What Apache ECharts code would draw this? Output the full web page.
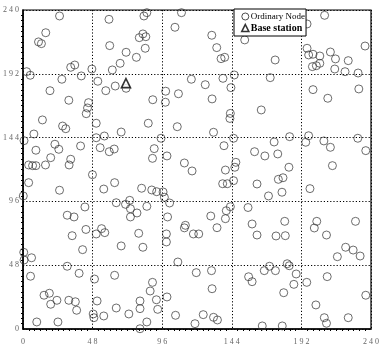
<!DOCTYPE html>
<html><head><meta charset="utf-8">
<script src="https://cdn.jsdelivr.net/npm/echarts@6/dist/echarts.min.js"></script>
<style>html,body{margin:0;padding:0;background:#fff}#c{width:382px;height:350px}</style>
</head><body><div id="c"></div>
<script>
const nodeX = [25.2,15.7,10.7,12.7,35.7,32.9,2.5,5.0,26.8,40.2,47.5,18.6,31.6,45.2,44.5,43.6,13.4,59.3,59.8,71.1,67.0,61.6,51.6,57.1,63.6,71.1,
83.4,85.4,109.3,104.8,82.7,84.7,80.2,78.2,84.3,130.2,133.6,136.6,139.1,116.1,125.7,137.9,145.7,143.4,98.4,107.2,89.5,98.2,130.4,143.0,142.7,152.9,
208.0,195.9,235.9,195.9,197.0,200.0,204.7,212.0,215.5,224.3,204.7,202.3,199.6,215.0,222.1,231.1,173.9,170.5,200.0,231.6,210.2,164.3,
50.5,27.3,29.5,7.5,0.7,50.5,56.1,67.7,22.0,24.7,39.7,8.9,53.2,59.5,62.9,19.1,32.9,31.8,3.9,6.6,8.9,15.5,47.9,3.9,63.2,25.2,55.7,0.2,64.3,73.6,70.7,42.7,30.5,35.2,74.1,43.4,54.2,
86.4,106.4,95.2,131.4,145.2,138.6,90.5,99.3,89.3,111.3,116.6,146.8,146.1,139.6,145.2,137.7,140.9,81.8,88.8,92.2,96.6,97.5,101.1,74.1,78.6,85.4,99.7,143.0,140.2,129.5,139.6,155.2,112.0,111.3,133.8,
183.9,197.0,195.0,173.2,207.5,230.9,212.0,236.4,159.7,166.8,175.7,183.4,213.4,161.4,176.1,179.3,178.6,169.3,197.9,158.0,180.5,202.6,200.9,229.3,
33.9,50.5,56.4,67.7,41.1,0.5,0.7,5.9,30.5,38.7,5.2,49.3,63.2,14.5,18.2,19.1,23.4,31.6,36.1,51.1,37.0,64.3,48.4,48.9,55.7,73.0,9.5,24.1,
79.8,82.7,98.9,98.9,117.5,121.2,106.8,119.5,130.0,89.3,87.7,130.4,80.7,92.0,99.3,80.7,92.9,105.2,124.3,131.4,134.1,85.4,80.7,118.6,155.6,
158.0,161.4,174.5,180.9,209.3,222.5,227.7,216.8,232.5,182.2,183.6,170.0,166.4,174.1,188.4,195.7,186.8,209.8,179.8,236.4,202.0,207.8,209.3,224.3,165.0,178.8];
const nodeY = [235.5,222.9,216.0,214.7,198.6,196.9,193.6,190.9,187.9,190.4,195.6,179.3,172.1,170.3,166.3,162.0,157.3,233.0,213.2,208.2,199.9,194.9,186.4,179.3,182.8,181.1,
235.5,238.0,238.0,227.0,222.0,219.9,219.2,204.4,211.2,221.0,211.7,203.4,204.4,187.9,183.8,188.6,191.1,181.6,178.9,177.0,172.5,170.6,173.1,162.2,158.4,217.5,
236.0,229.5,212.9,211.2,206.2,206.7,205.4,208.4,203.2,201.9,199.9,198.1,197.4,195.6,193.6,192.6,202.4,189.1,180.1,180.6,173.6,164.8,
154.8,152.7,150.7,146.7,141.7,143.9,145.2,148.2,139.0,135.2,137.7,134.5,136.4,133.4,135.4,128.9,127.7,123.4,123.4,122.9,122.9,123.4,116.1,110.1,110.1,104.4,105.3,100.1,95.0,96.8,93.8,91.8,85.6,84.3,84.3,74.9,75.5,
154.8,152.2,143.5,148.0,143.5,137.9,135.7,130.2,128.4,124.9,118.9,125.4,121.7,119.6,111.6,109.3,109.3,105.9,104.6,103.3,103.1,99.1,94.8,90.5,87.3,92.3,84.3,92.0,89.0,85.0,83.0,91.4,78.0,76.1,76.2,
144.7,145.4,140.5,140.7,141.5,143.5,136.7,134.2,133.4,130.2,131.7,121.7,122.9,109.1,112.6,113.8,102.9,100.1,105.6,79.0,81.0,81.0,76.0,81.0,
70.2,71.5,72.5,62.5,59.7,57.7,51.9,53.6,47.2,41.9,39.7,37.6,40.4,25.4,26.9,18.6,21.6,21.6,20.5,21.1,14.1,15.8,11.3,8.5,9.8,11.3,5.3,5.3,
72.0,61.5,71.5,65.5,71.5,71.5,50.4,42.4,43.9,35.1,28.6,30.3,21.1,22.0,24.1,15.3,14.8,10.3,10.8,8.8,6.8,5.3,0.2,4.0,39.3,
35.6,70.7,70.0,70.2,70.7,61.5,59.4,54.4,54.9,49.1,47.6,47.2,43.9,43.9,41.4,35.1,33.6,39.4,27.3,25.4,18.1,8.5,4.3,8.5,2.3,2.3];
const baseX = [71];
const baseY = [185];
const xTickLabels = ['0','4 8','9 6','1 4 4','1 9 2','2 4 0'];
const yTickLabels = ['0','4 8','9 6','1 4 4','1 9 2','2 4 0'];
const seriesNames = ['Ordinary Node','Base station'];

const nodeData = nodeX.map((x,i)=>[x,nodeY[i]]);
const baseData = baseX.map((x,i)=>[x,baseY[i]]);
const FONT = 'Liberation Serif';

function axisCfg(labels, isX){
  return {
    type:'value', min:0, max:240, interval:48,
    axisLine:{show:true, onZero:false, lineStyle:{color:'#000', width:1.5}},
    axisTick:{show:false},
    minorTick:{show:true, splitNumber:12, length:2, lineStyle:{color:'#000', width:1}},
    minorSplitLine:{show:false},
    splitLine:{show:true, lineStyle:{color:'#000', type:[1.2,2], width:1}},
    axisLabel:{color:'#666', fontFamily:FONT, fontSize:8, margin: isX?9:4,
      formatter:(v)=>labels[Math.round(v/48)]}
  };
}
const chart = echarts.init(document.getElementById('c'), null, {renderer:'canvas'});
chart.setOption({
  animation:false,
  backgroundColor:'#fff',
  grid:{left:23, right:7, top:10, bottom:21, show:true, borderColor:'#000', borderWidth:1.2, backgroundColor:'transparent'},
  xAxis: axisCfg(xTickLabels, true),
  yAxis: axisCfg(yTickLabels, false),
  legend:{
    orient:'vertical', left:234, top:9,
    backgroundColor:'#fff', borderColor:'#000', borderWidth:1, borderRadius:0,
    padding:[3,1,3,7], itemGap:2, itemWidth:7, itemHeight:7,
    textStyle:{fontFamily:FONT, fontSize:9, color:'#000', padding:[0,0,0,-3]},
    data:[
      {name:seriesNames[0], icon:'circle', itemStyle:{color:'#fff', borderColor:'#222', borderWidth:1}},
      {name:seriesNames[1], icon:'triangle', itemStyle:{color:'#fff', borderColor:'#000', borderWidth:1.6}, textStyle:{fontWeight:'bold', fontSize:10}}
    ]
  },
  series:[
    {name:seriesNames[0], type:'scatter', data:nodeData, symbol:'circle', symbolSize:8, clip:false,
      itemStyle:{color:'rgba(255,255,255,0)', borderColor:'#333', borderWidth:0.9}},
    {name:seriesNames[1], type:'scatter', data:baseData, symbol:'triangle', symbolSize:9, clip:false, z:3,
      itemStyle:{color:'#fff', borderColor:'#000', borderWidth:1.6}}
  ]
});
</script></body></html>
